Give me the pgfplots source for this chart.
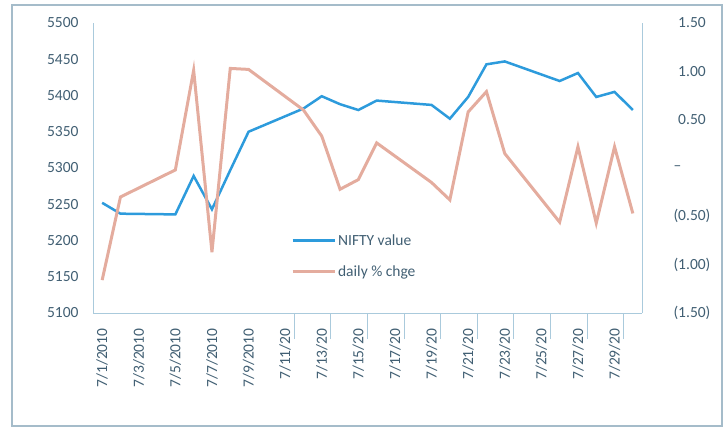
\documentclass[border=0pt]{standalone}
\usepackage{pgfplots}
\usepackage{pgfplotstable}
\pgfplotsset{compat=1.18}
\usepackage{fontspec}
\setmainfont{Carlito}
\definecolor{nblue}{RGB}{45,155,220}
\definecolor{nred}{RGB}{228,172,158}
\definecolor{axc}{RGB}{170,202,220}
\definecolor{txt}{RGB}{65,95,115}
\definecolor{frm}{RGB}{165,188,202}
\newcommand\lbl{\fontsize{15.5}{15.5}\selectfont}

\pgfplotstableread{
day nifty chg
1 5252 -1.16
2 5237 -0.30
5 5236 -0.02
6 5289 1.01
7 5243 -0.87
8 5297 1.03
9 5350 1.02
12 5382 0.60
13 5399 0.33
14 5388 -0.22
15 5380 -0.12
16 5393 0.26
19 5387 -0.15
20 5368 -0.33
21 5398 0.58
22 5443 0.79
23 5447 0.15
26 5420 -0.56
27 5431 0.22
28 5398 -0.57
29 5405 0.22
30 5380 -0.47
}\datatable

\begin{document}
\begin{tikzpicture}[x=1pt,y=1pt]
\useasboundingbox (0,0) rectangle (727,429);
\draw[frm, line width=1.5pt] (12,3) rectangle (722,424);
\begin{axis}[
  at={(93pt,116pt)}, anchor=south west, scale only axis,
  width=549pt, height=290pt,
  xmin=0.5, xmax=30.5, ymin=5100, ymax=5500,
  axis y line*=left, axis x line*=bottom,
  axis line style={axc, line width=1pt, -},
  xtick={1,3,...,29},
  xticklabels={7/1/2010,7/3/2010,7/5/2010,7/7/2010,7/9/2010,7/11/20,7/13/20,7/15/20,7/17/20,7/19/20,7/21/20,7/23/20,7/25/20,7/27/20,7/29/20},
  major tick length=0pt,
  x tick label style={rotate=90, anchor=east, font=\lbl, text=txt},
  xticklabel shift=12pt,
  extra x ticks={11.5,13.5,...,29.5},
  extra x tick labels={},
  extra x tick style={tick align=outside, major tick length=26pt, tick style={axc, line width=1pt}},
  ytick={5100,5150,...,5500},
  y tick label style={font=\lbl, text=txt},
  yticklabel shift=11pt,
  /pgf/number format/assume math mode=true,
  /pgf/number format/1000 sep={},
]
\addplot[nblue, line width=2.5pt] table[x=day, y=nifty]{\datatable};
\end{axis}
\begin{axis}[
  at={(93pt,116pt)}, anchor=south west, scale only axis,
  width=549pt, height=290pt,
  xmin=0.5, xmax=30.5, ymin=-1.5, ymax=1.5,
  axis y line*=right, axis x line=none,
  axis line style={axc, line width=1pt, -},
  major tick length=0pt,
  ytick={-1.5,-1,-0.5,0,0.5,1,1.5},
  yticklabels={(1.50),(1.00),(0.50),--,\hphantom{(}0.50,\hphantom{(}1.00,\hphantom{(}1.50},
  y tick label style={font=\lbl, text=txt, anchor=west},
  yticklabel shift=28pt,
  legend style={at={(0.355,0.285)}, anchor=north west, draw=none, fill=none,
    font=\lbl, text=txt, row sep=15pt},
  legend cell align=left,
  legend image code/.code={\draw[#1] (0pt,0pt) -- (42pt,0pt);},
]
\addlegendimage{nblue, line width=2.5pt}
\addlegendentry{NIFTY value}
\addplot[nred, line width=3pt] table[x=day, y=chg]{\datatable};
\addlegendentry{daily \% chge}
\end{axis}
\end{tikzpicture}
\end{document}
